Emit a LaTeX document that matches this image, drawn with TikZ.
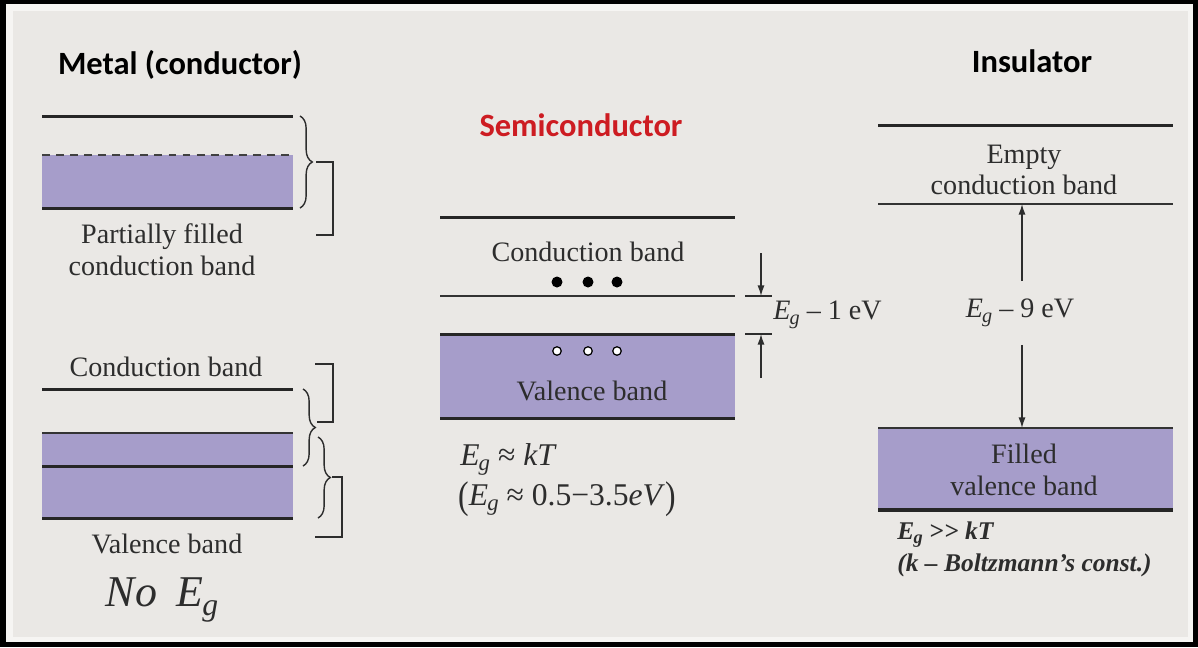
\documentclass[tikz,border=0pt]{standalone}
\usepackage{fontspec}
\setmainfont{Liberation Serif}
\newfontfamily\headfont{Carlito}
\usetikzlibrary{arrows.meta, decorations.pathreplacing, positioning}

\definecolor{bggray}{RGB}{234,232,229}
\definecolor{rimgray}{RGB}{246,245,243}
\definecolor{bandfill}{RGB}{166,157,202}
\definecolor{inkgray}{RGB}{45,45,45}
\definecolor{semred}{RGB}{205,28,34}

\newcommand{\Eg}{\textit{E}\kern-0.03em\raisebox{-0.4ex}{\scalebox{0.72}{\textit{g}}}}

\begin{document}
\begin{tikzpicture}[
        x=0.02cm, y=-0.02cm,
        headline/.style={font={\headfont\bfseries\fontsize{18.5}{22}\selectfont}, inner sep=0pt},
        bandtext/.style={font={\fontsize{16}{18}\selectfont}, text=inkgray, align=center, inner sep=0pt},
        formula/.style={font={\fontsize{18}{22}\selectfont}, text=inkgray, inner sep=0pt, anchor=base west},
        thickband/.style={line width=1.7pt, draw=black!85},
        thinband/.style={line width=1pt, draw=black!80},
        curlybrace/.style={decorate, decoration={brace, amplitude=7pt}, line width=0.8pt, draw=inkgray},
        sqbracket/.style={line width=0.8pt, draw=inkgray},
        gaparrow/.style={-{Latex[length=6pt,width=4pt]}, line width=0.8pt, draw=inkgray},
        electron/.style={circle, fill=black, inner sep=0pt, minimum size=0.22cm},
        hole/.style={circle, draw=black, fill=white, line width=0.7pt, inner sep=0pt, minimum size=0.17cm}
    ]
        \useasboundingbox (0,0) rectangle (1198,647);

        % Frame
        \fill[black] (0,0) rectangle (1198,647);
        \fill[rimgray] (6,4) rectangle (1193,642);
        \fill[bggray] (13,11) rectangle (1188,637);

        % Headlines
        \node (metaltitle) [headline] at (180,65) {Metal (conductor)};
        \node (semititle) [headline, text=semred] at (581,125) {Semiconductor};
        \node (insutitle) [headline] at (1032,61) {Insulator};

        % Metal: partially filled band
        \fill[bandfill] (42,155) rectangle (293,208);
        \draw[thickband] (42,116) -- (293,116);
        \draw[line width=1.3pt, dash pattern=on 4.5pt off 3.5pt, draw=black!75] (42,155) -- (293,155);
        \draw[thickband] (42,208) -- (293,208);
        \draw[curlybrace] (300,116) -- (300,208);
        \draw[sqbracket] (316,162) -- (333,162) -- (333,235) -- (316,235);
        \node (mpartial) [bandtext] at (162,250) {Partially filled\\conduction band};

        % Metal: overlapping bands
        \node (mcb) [bandtext] at (166,367) {Conduction band};
        \fill[bandfill] (42,433) rectangle (293,518);
        \draw[thickband] (42,389) -- (293,389);
        \draw[thinband] (42,433) -- (293,433);
        \draw[thickband] (42,466) -- (293,466);
        \draw[thickband] (42,518) -- (293,518);
        \draw[curlybrace] (303,389) -- (303,466);
        \draw[sqbracket] (315,364) -- (333,364) -- (333,422) -- (317,422);
        \draw[curlybrace] (318,437) -- (318,518);
        \draw[sqbracket] (332,477) -- (342,477) -- (342,537) -- (315,537);
        \node (mvb) [bandtext] at (167,544) {Valence band};
        \node (noeg) [font={\fontsize{25}{29}\selectfont}, text=inkgray, inner sep=0pt] at (162,600) {\textit{No}\hspace{0.45em}\Eg};

        % Semiconductor
        \fill[bandfill] (440,334) rectangle (735,418);
        \draw[thickband] (440,217) -- (735,217);
        \draw[thinband] (440,296) -- (735,296);
        \draw[thickband] (440,334) -- (735,334);
        \draw[thickband] (440,418) -- (735,418);
        \node (scb) [bandtext] at (588,252) {Conduction band};
        \node (svb) [bandtext] at (592,391) {Valence band};
        \foreach \x in {557,588,617} {
            \node (e\x) [electron] at (\x,282) {};
            \node (h\x) [hole] at (\x,351) {};
        }
        \draw[sqbracket] (745,296) -- (772,296);
        \draw[sqbracket] (745,334) -- (772,334);
        \coordinate (sgaptop) at (761,296);
        \coordinate (sgapbot) at (761,334);
        \coordinate (sarrowtop) at (761,253);
        \coordinate (sarrowbot) at (761,378);
        \draw[gaparrow] (sarrowtop) -- (sgaptop);
        \draw[gaparrow] (sarrowbot) -- (sgapbot);
        \node (sgaplabel) [bandtext, anchor=west] at (773,315) {\Eg\ – 1 eV};
        \node (sform1) [formula] at (460,465) {\Eg\ ≈ \textit{kT}};
        \node (sform2) [formula] at (458,505) {\raisebox{-0.12em}{\scalebox{1}[1.22]{(}}\Eg\ ≈ 0.5−3.5\textit{eV}\raisebox{-0.12em}{\scalebox{1}[1.22]{)}}};

        % Insulator
        \fill[bandfill] (878,428) rectangle (1173,510);
        \draw[thickband] (878,125) -- (1173,125);
        \draw[thinband] (878,204) -- (1173,204);
        \draw[thinband, line width=1.3pt] (878,428) -- (1173,428);
        \draw[thickband, line width=2pt] (878,510) -- (1173,510);
        \node (icb) [bandtext] at (1024,170) {Empty\\conduction band};
        \node (ivb) [bandtext] at (1024,470) {Filled\\valence band};
        \coordinate (igaptop) at (1022,204);
        \coordinate (igapbot) at (1022,428);
        \node (igaplabel) [bandtext, inner ysep=10pt] at (1020,313) {\Eg\ – 9 eV};
        \draw[gaparrow] (igaplabel.north -| igaptop) -- (igaptop);
        \draw[gaparrow] (igaplabel.south -| igapbot) -- (igapbot);
        \node (iform1) [formula, font={\bfseries\itshape\fontsize{14.5}{17}\selectfont}] at (897,539) {\Eg\ >\kern0.02em> kT};
        \node (iform2) [formula, font={\bfseries\itshape\fontsize{14.5}{17}\selectfont}] at (897,571) {(k – Boltzmann's const.)};

    \end{tikzpicture}
\end{document}
